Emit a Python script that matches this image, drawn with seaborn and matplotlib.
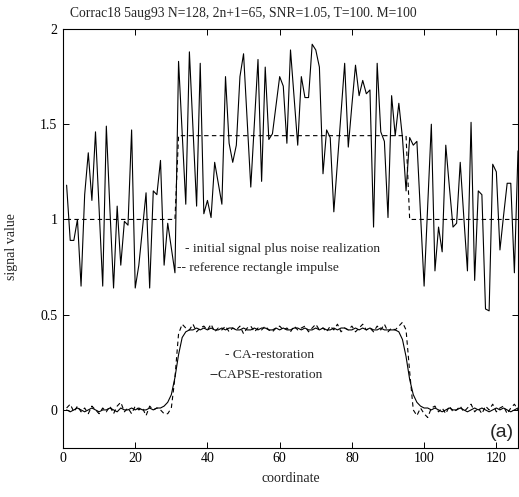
import numpy as np
import pandas as pd
import matplotlib
matplotlib.use("Agg")
import matplotlib.pyplot as plt
import seaborn as sns

# ---------------- data ----------------
coordinate = np.arange(1, 129)

noisy_signal = [
    1.18, 0.89, 0.89, 1.00, 0.65, 1.13, 1.35, 1.10, 1.46, 1.05,
    0.65, 1.49, 1.05, 0.64, 1.07, 0.76, 0.99, 0.97, 1.47, 0.64,
    0.76, 0.95, 1.14, 0.64, 1.15, 1.13, 1.31, 0.76, 0.98, 0.85,
    0.72, 1.83, 1.45, 1.08, 1.88, 1.48, 1.07, 1.82, 1.03, 1.10,
    1.01, 1.30, 1.19, 1.08, 1.75, 1.40, 1.30, 1.39, 1.75, 1.87,
    1.52, 1.17, 1.50, 1.84, 1.20, 1.80, 1.42, 1.45, 1.60, 1.75,
    1.70, 1.40, 1.89, 1.64, 1.39, 1.75, 1.64, 1.64, 1.92, 1.89,
    1.80, 1.24, 1.47, 1.43, 1.04, 1.30, 1.56, 1.82, 1.38, 1.60,
    1.81, 1.65, 1.73, 1.66, 1.68, 0.96, 1.82, 1.46, 1.41, 1.01,
    1.65, 1.44, 1.61, 1.43, 1.15, 1.43, 1.39, 1.41, 1.03, 0.65,
    1.08, 1.50, 0.73, 0.96, 0.83, 1.39, 1.17, 0.96, 0.98, 1.30,
    1.01, 0.73, 1.51, 0.68, 1.15, 1.13, 0.53, 0.52, 1.29, 1.25,
    0.84, 1.02, 1.19, 1.19, 0.72, 1.36, 1.30, 1.20,
]

ref_low = 1.0
ref_high = 1.44
ref_start = 32   # first coordinate of the impulse
ref_end = 95     # last coordinate of the impulse

ca_restoration = [
    0.00, -0.01, 0.00, 0.01, 0.00, -0.01, 0.00, 0.01, 0.00, -0.01,
    0.00, 0.00, 0.01, 0.00, -0.01, 0.01, 0.00, 0.00, 0.01, 0.00,
    0.01, 0.00, 0.00, 0.01, 0.00, 0.01, 0.01, 0.02, 0.04, 0.08,
    0.17, 0.29, 0.38, 0.41, 0.42, 0.42, 0.43, 0.42, 0.43, 0.42,
    0.43, 0.42, 0.42, 0.43, 0.42, 0.43, 0.43, 0.42, 0.42, 0.43,
    0.42, 0.42, 0.43, 0.42, 0.43, 0.43, 0.42, 0.42, 0.43, 0.42,
    0.43, 0.42, 0.42, 0.43, 0.43, 0.42, 0.43, 0.42, 0.42, 0.43,
    0.42, 0.43, 0.42, 0.42, 0.43, 0.42, 0.43, 0.43, 0.42, 0.42,
    0.43, 0.42, 0.43, 0.42, 0.43, 0.42, 0.42, 0.43, 0.42, 0.42,
    0.42, 0.42, 0.41, 0.37, 0.28, 0.16, 0.08, 0.04, 0.02, 0.01,
    0.01, 0.00, 0.01, 0.00, -0.01, 0.00, 0.01, 0.00, 0.00, 0.01,
    0.00, -0.01, 0.00, 0.01, 0.00, 0.01, 0.00, -0.01, 0.00, 0.01,
    0.00, 0.01, 0.00, -0.01, 0.00, 0.01, 0.00, 0.01,
]

capse_restoration = [
    0.01, 0.03, -0.01, 0.02, -0.01, 0.01, -0.02, 0.02, 0.00, -0.02,
    0.01, -0.01, 0.02, -0.02, 0.02, 0.04, -0.01, 0.01, -0.02, 0.02,
    0.00, 0.01, -0.03, 0.02, 0.00, 0.01, 0.00, -0.02, -0.02, 0.01,
    0.17, 0.40, 0.45, 0.43, 0.42, 0.45, 0.41, 0.43, 0.44, 0.42,
    0.45, 0.41, 0.43, 0.42, 0.44, 0.41, 0.43, 0.42, 0.44, 0.40,
    0.43, 0.44, 0.41, 0.43, 0.42, 0.44, 0.42, 0.41, 0.43, 0.44,
    0.42, 0.43, 0.41, 0.44, 0.42, 0.43, 0.44, 0.41, 0.43, 0.45,
    0.42, 0.43, 0.41, 0.44, 0.42, 0.45, 0.41, 0.43, 0.42, 0.44,
    0.41, 0.43, 0.45, 0.42, 0.43, 0.41, 0.44, 0.42, 0.45, 0.41,
    0.43, 0.42, 0.44, 0.46, 0.42, 0.20, 0.00, -0.03, 0.01, -0.02,
    -0.04, 0.01, 0.02, -0.01, 0.01, -0.02, 0.02, -0.01, 0.00, 0.02,
    -0.01, 0.01, 0.03, -0.01, 0.01, -0.02, 0.02, 0.00, 0.03, -0.01,
    0.01, 0.02, -0.02, 0.01, 0.03, 0.00, 0.02, 0.01,
]

x_ticks = [0, 20, 40, 60, 80, 100, 120]
y_ticks = [0, 0.5, 1, 1.5, 2]
y_tick_labels = ["0", "0.5", "1", "1.5", "2"]

title = "Corrac18 5aug93 N=128, 2n+1=65, SNR=1.05, T=100. M=100"

# ---------------- frame ----------------
reference = np.where((coordinate >= ref_start) & (coordinate <= ref_end), ref_high, ref_low)
df = pd.DataFrame({
    "coordinate": coordinate,
    "noisy": noisy_signal,
    "reference": reference,
    "ca": ca_restoration,
    "capse": capse_restoration,
})

sns.set_style("ticks")
plt.rcParams["font.family"] = ["Liberation Serif", "DejaVu Serif"]
plt.rcParams["axes.linewidth"] = 0.8

W, H = 519, 497
fig = plt.figure(figsize=(W / 100, H / 100), dpi=100)
ax_left, ax_right, ax_top, ax_bottom = 63, 518, 29, 448
ax = fig.add_axes([ax_left / W, 1 - ax_bottom / H,
                   (ax_right - ax_left) / W, (ax_bottom - ax_top) / H])

kw = dict(ax=ax, color="black", linewidth=0.8, estimator=None, sort=False, legend=False)
sns.lineplot(data=df, x="coordinate", y="noisy", **kw)
sns.lineplot(data=df, x="coordinate", y="reference", linestyle=(0, (4, 3)), **kw)
sns.lineplot(data=df, x="coordinate", y="ca", **kw)
sns.lineplot(data=df, x="coordinate", y="capse", linestyle=(0, (4, 3)), **kw)

ax.set_xlim(0, 126)
ax.set_ylim(-0.2, 2.0)
ax.set_xticks(x_ticks)
ax.set_xticklabels([str(t) for t in x_ticks])
ax.set_yticks(y_ticks)
ax.set_yticklabels(y_tick_labels)
ax.tick_params(direction="in", length=4, width=0.7, top=True, right=True,
               labelsize=10, colors="black")
ax.tick_params(axis="x", pad=3)
ax.tick_params(axis="y", pad=4)
for s in ax.spines.values():
    s.set_color("black")
    s.set_linewidth(0.8)

ax.set_xlabel("coordinate", fontsize=10)
ax.set_ylabel("signal value", fontsize=10)
ax.xaxis.set_label_coords(0.5, -0.058)
ax.yaxis.set_label_coords(-0.099, 0.48)

fig.text(70 / W, 1 - 14 / H, title, ha="left", va="center", fontsize=9.8)

fs = 9.7
ax.text(33.7, 0.845, "- initial signal plus noise realization", fontsize=fs,
        ha="left", va="center")
ax.text(31.5, 0.745, "-- reference rectangle impulse", fontsize=fs,
        ha="left", va="center")
ax.text(44.8, 0.289, "- CA-restoration", fontsize=fs, ha="left", va="center")
ax.text(40.6, 0.184, "--CAPSE-restoration", fontsize=fs, ha="left", va="center")
ax.text(118.3, -0.12, "(a)", fontsize=14, ha="left", va="center",
        family=["Liberation Sans", "DejaVu Sans"])

fig.savefig("out.png", dpi=100)
